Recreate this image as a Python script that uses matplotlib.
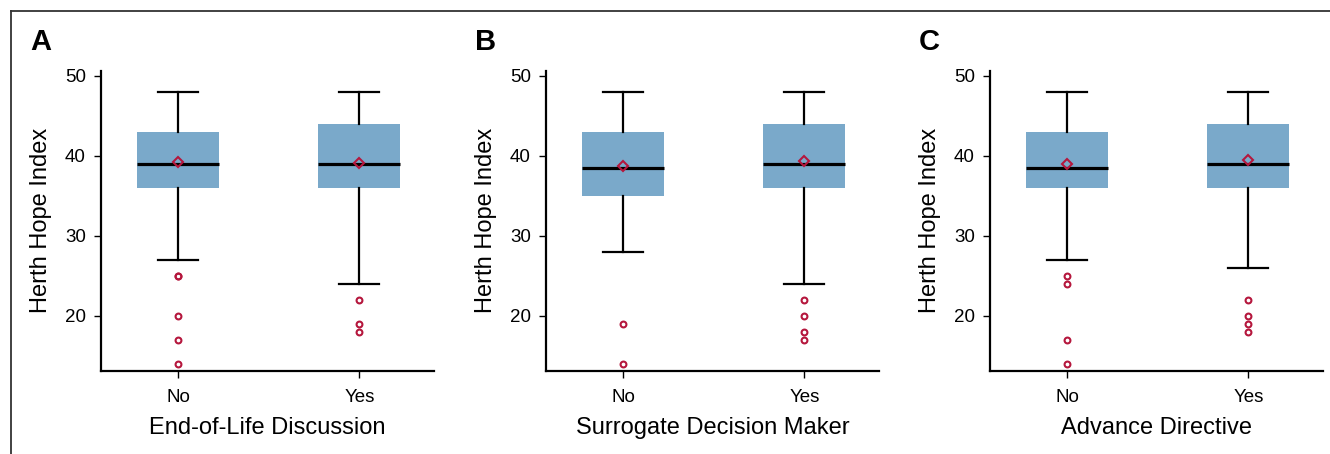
import matplotlib
matplotlib.use("Agg")
import matplotlib.pyplot as plt
from matplotlib.lines import Line2D

plt.rcParams['font.family'] = ['Liberation Sans Narrow', 'Liberation Sans', 'DejaVu Sans']

# data (Herth Hope Index)
groups = ["No", "Yes"]
panel_letters = ["A", "B", "C"]
xlabels = ["End-of-Life Discussion", "Surrogate Decision Maker", "Advance Directive"]

# per panel: [No, Yes]
whishi = [[48, 48], [48, 48], [48, 48]]
q3 = [[43, 44], [43, 44], [43, 44]]
med = [[39, 39], [38.5, 39], [38.5, 39]]
mean = [[39.2, 39.1], [38.7, 39.3], [39.0, 39.5]]
q1 = [[36, 36], [35, 36], [36, 36]]
whislo = [[27, 24], [28, 24], [27, 26]]
fliers = [
    [[25, 25, 20, 17, 14], [22, 19, 18]],
    [[19, 14], [22, 20, 18, 17]],
    [[25, 24, 17, 14], [22, 20, 19, 18]],
]

box_color = '#7aa9ca'
red = '#b5173d'

fig = plt.figure(figsize=(13.3, 4.54), dpi=100)

lefts = [101, 546, 990]
for i in range(3):
    ax = fig.add_axes([lefts[i] / 1330, 83.3 / 454, 333 / 1330, 299.7 / 454])
    stats = []
    for j in range(2):
        stats.append(dict(med=med[i][j], q1=q1[i][j], q3=q3[i][j],
                          whislo=whislo[i][j], whishi=whishi[i][j],
                          mean=mean[i][j], fliers=fliers[i][j]))
    ax.bxp(stats, positions=[1, 2], widths=0.452, capwidths=0.22,
           patch_artist=True, showmeans=True,
           boxprops=dict(facecolor=box_color, edgecolor='none', linewidth=0),
           medianprops=dict(color='black', linewidth=2.3, solid_capstyle='butt'),
           whiskerprops=dict(color='black', linewidth=1.6),
           capprops=dict(color='black', linewidth=1.6),
           meanprops=dict(marker='D', markerfacecolor='none', markeredgecolor=red,
                          markersize=5.5, markeredgewidth=1.5),
           flierprops=dict(marker='o', markerfacecolor='none', markeredgecolor=red,
                           markersize=4.2, markeredgewidth=1.5))
    ax.set_xlim(0.576, 2.411)
    ax.set_ylim(13.16, 50.6)
    ax.set_yticks([20, 30, 40, 50])
    ax.set_xticks([1, 2])
    ax.set_xticklabels(groups)
    for s in ['top', 'right']:
        ax.spines[s].set_visible(False)
    for s in ['left', 'bottom']:
        ax.spines[s].set_linewidth(1.6)
    ax.tick_params(axis='both', direction='out', length=5, width=1, labelsize=13.5, pad=6)
    ax.tick_params(axis='x', pad=8)
    ax.set_ylabel('Herth Hope Index', fontsize=17, labelpad=9)
    ax.set_xlabel(xlabels[i], fontsize=17, labelpad=8)
    fig.text((lefts[i] - 71) / 1330, 1 - 28 / 454, panel_letters[i], fontsize=21,
             fontweight='bold', family=['Liberation Sans', 'DejaVu Sans'],
             ha='left', va='top')

# border lines around the figure (top and left)
fig.add_artist(Line2D([11 / 1330, 1], [1 - 10.5 / 454, 1 - 10.5 / 454],
                      transform=fig.transFigure, color='#333333', linewidth=1.3))
fig.add_artist(Line2D([11 / 1330, 11 / 1330], [0, 1 - 10.5 / 454],
                      transform=fig.transFigure, color='#333333', linewidth=1.3))

fig.savefig('out.png', dpi=100)
